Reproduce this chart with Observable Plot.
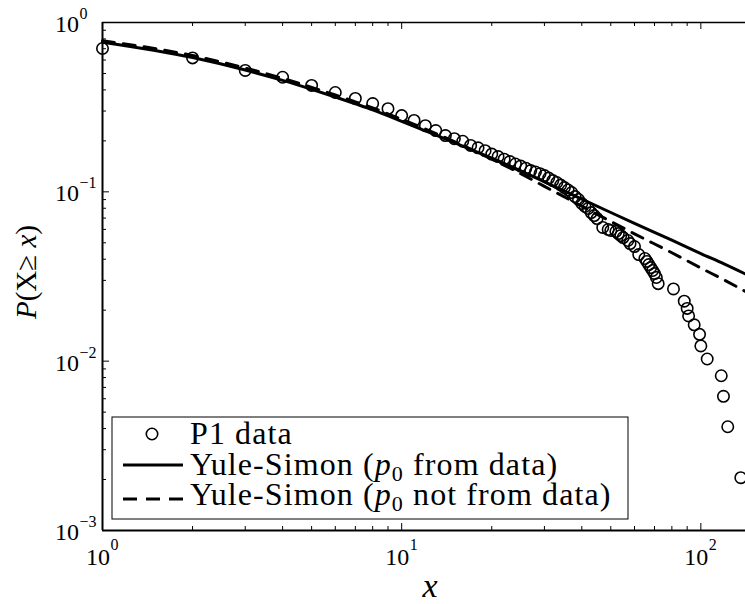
<!DOCTYPE html>
<html><head><meta charset="utf-8">
<script src="https://cdn.jsdelivr.net/npm/d3@7"></script>
<script src="https://cdn.jsdelivr.net/npm/@observablehq/plot@0.6"></script>
<style>body{margin:0;background:#fff;} svg{display:block;} svg text.serif{font-family:"Liberation Serif","Times New Roman",serif !important;}</style>
</head><body><div id="chart"></div>
<script>
// P1 data: empirical CCDF
const dataX = [1,2,3,4,5,6,7,8,9,10,11,12,13,14,15,16,17,18,19,20,21,22,23,24,25,26,27,28,29,30,31,32,33,34,35,36,37,38,39,40,41,42,43,44,45,47,49,50,52,53,54,55,57,58,60,62,65,66,67,68,69,70,71,72,81,88,90,91,95,99,100,105,117,119,123,136];
const dataP = [0.702,0.618,0.521,0.475,0.425,0.386,0.356,0.332,0.310,0.282,0.264,0.246,0.230,0.215,0.206,0.199,0.188,0.182,0.175,0.167,0.1616,0.156,0.151,0.146,0.142,0.138,0.1336,0.131,0.128,0.1248,0.1206,0.1166,0.1135,0.1097,0.106,0.1025,0.0991,0.0938,0.0901,0.0853,0.0819,0.0797,0.0754,0.0724,0.0695,0.0616,0.0599,0.0591,0.0583,0.0567,0.0552,0.0537,0.0516,0.0495,0.0475,0.0426,0.0404,0.0388,0.0372,0.0357,0.0343,0.0329,0.0312,0.0287,0.0267,0.0226,0.0205,0.0185,0.0164,0.0144,0.0123,0.0103,0.0082,0.0062,0.0041,0.00205];
// Yule-Simon fits
const fitX = [1,2,3,4,5,6,7,8,10,12,15,20,25,30,40,50,60,80,100,120,141];
const fitFromData = [0.765,0.621,0.524,0.455,0.403,0.363,0.331,0.305,0.261,0.229,0.195,0.158,0.133,0.1145,0.0905,0.0755,0.0652,0.0518,0.0432,0.0374,0.0327];
const fitNotFromData = [0.781,0.638,0.538,0.468,0.414,0.373,0.340,0.313,0.268,0.235,0.198,0.156,0.128,0.1077,0.0823,0.0668,0.0565,0.0437,0.0355,0.0301,0.0258];
// ticks
const xMajor = [1,10,100];
const xExp = ["0","1","2"];
const xMinor = [2,3,4,5,6,7,8,9,20,30,40,50,60,70,80,90];
const yMajor = [1e-3,1e-2,1e-1,1];
const yExp = ["\u22123","\u22122","\u22121","0"];
const yMinor = [2e-3,3e-3,4e-3,5e-3,6e-3,7e-3,8e-3,9e-3,2e-2,3e-2,4e-2,5e-2,6e-2,7e-2,8e-2,9e-2,0.2,0.3,0.4,0.5,0.6,0.7,0.8,0.9];
const legendLabels = ["P1 data", "Yule-Simon (", " from data)", " not from data)"];

const points = dataX.map((x, i) => ({x, p: dataP[i]}));
const solid = fitX.map((x, i) => ({x, p: fitFromData[i]}));
const dashed = fitX.map((x, i) => ({x, p: fitNotFromData[i]}));

const W = 745, H = 604, mL = 102, mR = 0, mT = 22, mB = 74;
const pw = W - mL - mR, ph = H - mT - mB;

const chart = Plot.plot({
  width: W, height: H,
  marginLeft: mL, marginRight: mR, marginTop: mT, marginBottom: mB,
  x: {type: "log", domain: [1, 141], axis: null},
  y: {type: "log", domain: [1e-3, 1], axis: null},
  style: {background: "white"},
  marks: [
    Plot.line(solid, {x: "x", y: "p", stroke: "black", strokeWidth: 3, curve: "monotone-x"}),
    Plot.line(dashed, {x: "x", y: "p", stroke: "black", strokeWidth: 3, strokeDasharray: "12,9", curve: "monotone-x"}),
    Plot.dot(points, {x: "x", y: "p", r: 5.7, stroke: "black", strokeWidth: 1.6, fill: "none"}),
    // frame
    Plot.ruleX([1], {stroke: "black", strokeWidth: 2}),
    Plot.ruleY([1e-3], {stroke: "black", strokeWidth: 2}),
    Plot.ruleY([1], {stroke: "black", strokeWidth: 1.5}),
    // inward ticks
    Plot.tickX(xMajor, {x: d => d, insetTop: ph - 7, stroke: "black", strokeWidth: 1}),
    Plot.tickX(xMajor, {x: d => d, insetBottom: ph - 7, stroke: "black", strokeWidth: 1}),
    Plot.tickX(xMinor, {x: d => d, insetTop: ph - 4, stroke: "black", strokeWidth: 1}),
    Plot.tickX(xMinor, {x: d => d, insetBottom: ph - 4, stroke: "black", strokeWidth: 1}),
    Plot.tickY(yMajor, {y: d => d, insetRight: pw - 7, stroke: "black", strokeWidth: 1}),
    Plot.tickY(yMinor, {y: d => d, insetRight: pw - 4, stroke: "black", strokeWidth: 1})
  ]
});
document.getElementById("chart").appendChild(chart);

const svg = d3.select(chart);
const sx = chart.scale("x"), sy = chart.scale("y");

function txt(parent, x, y, size, anchor) {
  return parent.append("text").attr("class", "serif").attr("x", x).attr("y", y)
    .attr("text-anchor", anchor).attr("font-family", "Liberation Serif")
    .attr("font-size", size).attr("fill", "black");
}

// tick labels
xMajor.forEach((v, i) => {
  const px = sx.apply(v);
  txt(svg, px + 8, 565, 24, "end").text("10");
  txt(svg, px + 8.5, 550, 16, "start").text(xExp[i]);
});
yMajor.forEach((v, i) => {
  const py = sy.apply(v);
  txt(svg, 79, py + 10, 24, "end").text("10");
  txt(svg, 79.5, py - 3, 16, "start").text(yExp[i]);
});

// axis titles
txt(svg, 430, 597, 34, "middle").attr("font-style", "italic").text("x");
const yt = txt(svg, 0, 0, 29, "middle").attr("x", null).attr("y", null)
  .attr("transform", "translate(36,272) rotate(-90)");
yt.append("tspan").attr("font-style", "italic").text("P");
yt.append("tspan").text("(X\u2265 ");
yt.append("tspan").attr("font-style", "italic").text("x");
yt.append("tspan").text(")");

// legend
const lg = svg.append("g");
lg.append("rect").attr("x", 112).attr("y", 417).attr("width", 516).attr("height", 102)
  .attr("fill", "white").attr("stroke", "black").attr("stroke-width", 1);
lg.append("circle").attr("cx", 152).attr("cy", 434).attr("r", 5.7)
  .attr("fill", "none").attr("stroke", "black").attr("stroke-width", 1.6);
lg.append("line").attr("x1", 123).attr("x2", 183).attr("y1", 465).attr("y2", 465)
  .attr("stroke", "black").attr("stroke-width", 3);
lg.append("line").attr("x1", 123).attr("x2", 183).attr("y1", 499).attr("y2", 499)
  .attr("stroke", "black").attr("stroke-width", 3).attr("stroke-dasharray", "14,9");
const LFS = 32;
txt(lg, 190, 444, LFS, "start").attr("letter-spacing", "1.1").text(legendLabels[0]);
[[474.5, legendLabels[2]], [505, legendLabels[3]]].forEach(([by, tail]) => {
  const t = txt(lg, 190, by, LFS, "start").attr("letter-spacing", "1.1");
  t.append("tspan").text(legendLabels[1]);
  t.append("tspan").attr("font-style", "italic").text("p");
  t.append("tspan").attr("dy", 6).attr("font-size", 22).text("0");
  t.append("tspan").attr("dy", -6).text(tail);
});
</script>
</body></html>
